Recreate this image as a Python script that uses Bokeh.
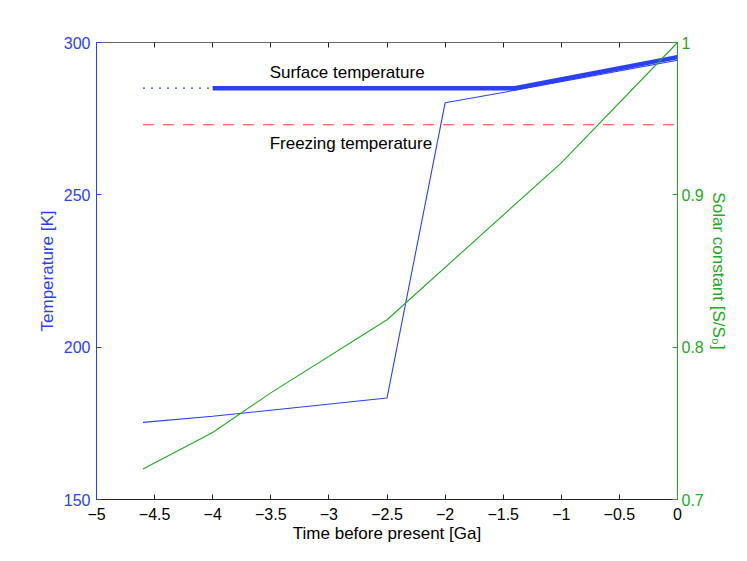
from bokeh.plotting import figure
from bokeh.models import LinearAxis, Range1d, FixedTicker, Label
from bokeh.embed import file_html
from bokeh.resources import INLINE

# ---- data ----
time_thin = [-4.6, -4.0, -2.5, -2.0, -1.4, 0.0]
temp_thin = [175.3, 177.3, 183.3, 280.2, 284.3, 294.2]

time_thick = [-4.0, -1.4, 0.0]
temp_thick = [285.0, 285.0, 295.2]

time_dotted = [-4.6, -4.0]
temp_dotted = [285.0, 285.0]

time_freeze = [-4.6, 0.0]
temp_freeze = [273.0, 273.0]

time_solar = [-4.6, -4.0, -3.5, -2.5, -1.0, 0.0]
solar = [0.72, 0.744, 0.77, 0.818, 0.921, 1.0]

x_ticks = [-5, -4.5, -4, -3.5, -3, -2.5, -2, -1.5, -1, -0.5, 0]
x_labels = ["\u22125", "\u22124.5", "\u22124", "\u22123.5", "\u22123", "\u22122.5",
            "\u22122", "\u22121.5", "\u22121", "\u22120.5", "0"]
t_ticks = [150, 200, 250, 300]
s_ticks = [0.7, 0.8, 0.9, 1.0]
s_labels = ["0.7", "0.8", "0.9", "1"]

BLUE = "#2b3ff5"
GREEN = "#22aa22"
RED = "#ff3b3b"
FONT = "Liberation Sans"
FS_TICK = "16px"
FS = "17px"

p = figure(width=731, height=545, output_backend="svg", toolbar_location=None,
           x_range=Range1d(-5, 0), y_range=Range1d(150, 300),
           min_border_left=96, min_border_right=54, min_border_top=42, min_border_bottom=46,
           y_axis_location=None, x_axis_location=None)
p.extra_y_ranges = {"solar": Range1d(0.7, 1.0)}
p.xgrid.visible = False
p.ygrid.visible = False
p.outline_line_color = "#333333"
p.outline_line_width = 1
p.background_fill_color = "white"
p.border_fill_color = "white"


def style(ax, color, label_color):
    ax.major_tick_in = 5
    ax.major_tick_out = 0
    ax.minor_tick_line_color = None
    ax.axis_line_color = color
    ax.major_tick_line_color = color
    ax.major_label_text_color = label_color
    ax.major_label_text_font = FONT
    ax.major_label_text_font_size = FS_TICK
    ax.axis_label_text_font = FONT
    ax.axis_label_text_font_size = FS
    ax.axis_label_text_font_style = "normal"
    ax.axis_label_text_color = label_color


xb = LinearAxis(ticker=FixedTicker(ticks=x_ticks),
                major_label_overrides={t: l for t, l in zip(x_ticks, x_labels)},
                axis_label="Time before present [Ga]")
style(xb, "#222222", "black")
xb.major_label_standoff = 8
xb.axis_label_standoff = 1
p.add_layout(xb, "below")

xt = LinearAxis(ticker=FixedTicker(ticks=x_ticks))
style(xt, "#666666", "black")
xt.major_tick_line_color = "#222222"
xt.major_label_text_font_size = "0px"
xt.major_label_text_color = None
p.add_layout(xt, "above")

yl = LinearAxis(ticker=FixedTicker(ticks=t_ticks), axis_label="Temperature [K]")
style(yl, BLUE, BLUE)
yl.major_label_standoff = 6
yl.axis_label_standoff = 4
p.add_layout(yl, "left")

yr = LinearAxis(y_range_name="solar", ticker=FixedTicker(ticks=s_ticks),
                major_label_overrides={t: l for t, l in zip(s_ticks, s_labels)},
                axis_label="Solar constant [S/S\u2080]")
style(yr, GREEN, GREEN)
yr.major_label_standoff = 4
yr.axis_label_standoff = 2
p.add_layout(yr, "right")

# ---- glyphs ----
p.line(time_freeze, temp_freeze, line_color=RED, line_width=1.2, line_dash="11 9")
p.line(time_dotted, temp_dotted, line_color=BLUE, line_width=1.2, line_dash="2 6")
p.line(time_thick, temp_thick, line_color=BLUE, line_width=4.5)
p.line(time_thin, temp_thin, line_color=BLUE, line_width=1.1)
p.line(time_solar, solar, line_color=GREEN, line_width=1.1, y_range_name="solar")

p.add_layout(Label(x=-3.51, y=287.0, text="Surface temperature", text_font=FONT,
                   text_font_size=FS, text_color="black"))
p.add_layout(Label(x=-3.51, y=263.6, text="Freezing temperature", text_font=FONT,
                   text_font_size=FS, text_color="black"))

open("out.html", "w").write(file_html(p, INLINE))
